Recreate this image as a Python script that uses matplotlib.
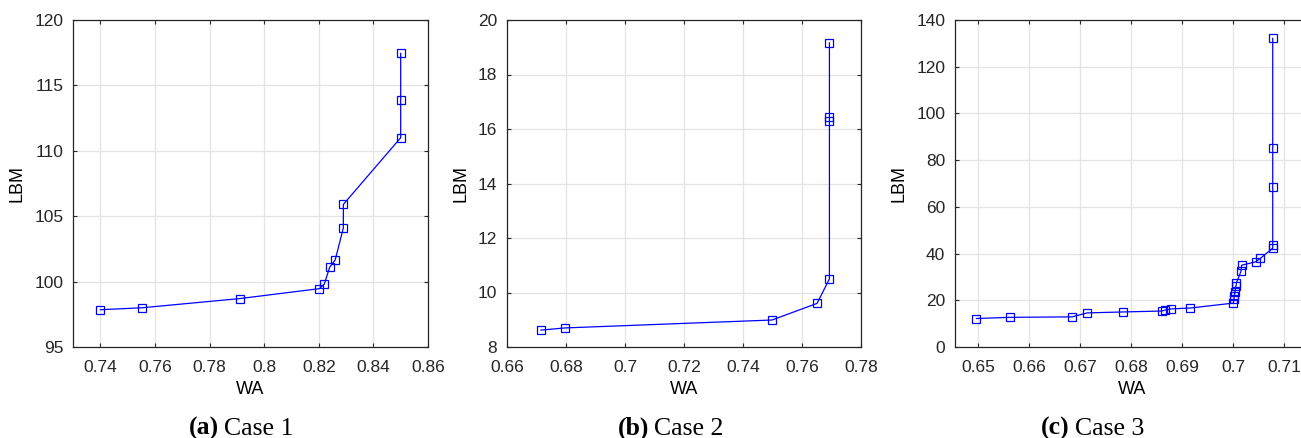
import matplotlib
matplotlib.use('Agg')
import matplotlib.pyplot as plt

plt.rcParams['font.family'] = ['Liberation Sans', 'DejaVu Sans']

# Case 1
wa1 = [0.740, 0.7553, 0.791, 0.8202, 0.8220, 0.8240, 0.8260, 0.8290, 0.8290, 0.8500, 0.8500, 0.8500]
lbm1 = [97.85, 98.0, 98.7, 99.46, 99.8, 101.1, 101.65, 104.1, 105.9, 111.0, 113.9, 117.45]

# Case 2
wa2 = [0.6715, 0.6797, 0.7498, 0.7651, 0.7693, 0.7693, 0.7693, 0.7693]
lbm2 = [8.62, 8.70, 8.99, 9.6, 10.5, 16.3, 16.45, 19.16]

# Case 3
wa3 = [0.6497, 0.6562, 0.6684, 0.6714, 0.6783, 0.6860, 0.6866, 0.6878, 0.6916,
       0.7000, 0.7001, 0.7002, 0.7003, 0.7005, 0.7006, 0.7015, 0.7016,
       0.7044, 0.7053, 0.7077, 0.7077, 0.7077, 0.7077, 0.7077]
lbm3 = [12.2, 12.7, 12.9, 14.6, 15.0, 15.4, 15.8, 16.3, 16.7,
        18.8, 20.5, 22.0, 23.5, 26.0, 27.5, 32.5, 35.0,
        36.5, 38.0, 42.3, 43.7, 68.6, 85.3, 132.1]

panels = [
    (wa1, lbm1, (0.73, 0.86), [0.74, 0.76, 0.78, 0.8, 0.82, 0.84, 0.86], ['0.74', '0.76', '0.78', '0.8', '0.82', '0.84', '0.86'],
     (95, 120), [95, 100, 105, 110, 115, 120], '(a)', 'Case 1'),
    (wa2, lbm2, (0.66, 0.78), [0.66, 0.68, 0.7, 0.72, 0.74, 0.76, 0.78], ['0.66', '0.68', '0.7', '0.72', '0.74', '0.76', '0.78'],
     (8, 20), [8, 10, 12, 14, 16, 18, 20], '(b)', 'Case 2'),
    (wa3, lbm3, (0.6455, 0.7148), [0.65, 0.66, 0.67, 0.68, 0.69, 0.7, 0.71], ['0.65', '0.66', '0.67', '0.68', '0.69', '0.7', '0.71'],
     (0, 140), [0, 20, 40, 60, 80, 100, 120, 140], '(c)', 'Case 3'),
]

W, H = 1301, 438
fig = plt.figure(figsize=(W / 100, H / 100), dpi=100)

# axes boxes in pixels: left, right (the third one runs past the right edge, as in the source)
boxes = [(73, 428), (507, 861), (955, 1309)]
splits = [219, 649, 1070]
top, bottom = 20, 347

for (x, y, xl, xt, xtl, yl, yt, tag, name), (l, r), sp in zip(panels, boxes, splits):
    ax = fig.add_axes([l / W, 1 - bottom / H, (r - l) / W, (bottom - top) / H])
    ax.plot(x, y, color='#0000ff', lw=0.9, marker='s', ms=6, mfc='none', mec='#0000ff', mew=0.9)
    ax.set_xlim(*xl)
    ax.set_ylim(*yl)
    ax.set_xticks(xt)
    ax.set_xticklabels(xtl)
    ax.set_yticks(yt)
    ax.grid(True, color='#e3e3e3', lw=0.9)
    ax.set_axisbelow(True)
    ax.tick_params(direction='in', top=True, right=True, labelsize=12.5, length=3, width=0.8, colors='#262626')
    ax.tick_params(axis='x', pad=9)
    ax.tick_params(axis='y', pad=7)
    for s in ax.spines.values():
        s.set_color('#262626')
        s.set_linewidth(0.9)
    ax.set_xlabel('WA', fontsize=13, labelpad=5)
    ax.set_ylabel('LBM', fontsize=13, labelpad=6)
    fig.text(sp / W, 1 - 435 / H, tag, ha='right', va='baseline', fontsize=18.5,
             family='Liberation Serif', weight='bold')
    fig.text((sp + 5) / W, 1 - 435 / H, name, ha='left', va='baseline', fontsize=18.5,
             family='Liberation Serif')

fig.savefig('out.png', dpi=100)
